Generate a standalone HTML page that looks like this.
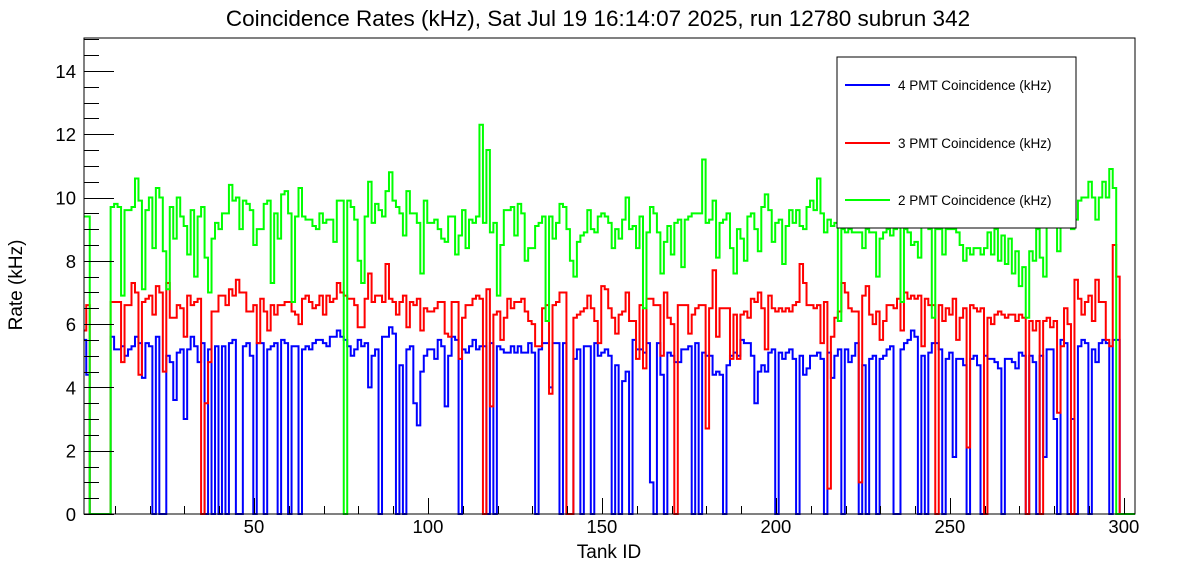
<!DOCTYPE html>
<html><head><meta charset="utf-8"><style>
body{margin:0;background:#fff;font-family:"Liberation Sans",sans-serif}
svg text{font-family:"Liberation Sans",sans-serif}
</style></head><body>
<svg id="chart" width="1196" height="572" viewBox="0 0 1196 572" xmlns="http://www.w3.org/2000/svg">
<defs><clipPath id="pc"><rect x="84" y="30" width="1051" height="486"/></clipPath></defs>
<rect width="1196" height="572" fill="#fff"/>
<text x="598" y="26" font-size="22.5" text-anchor="middle">Coincidence Rates (kHz), Sat Jul 19 16:14:07 2025, run 12780 subrun 342</text>
<text x="609" y="558" font-size="19" text-anchor="middle">Tank ID</text>
<text transform="translate(22,285) rotate(-90)" font-size="19" text-anchor="middle">Rate (kHz)</text>
<g id="series" clip-path="url(#pc)"></g>
<g id="axes"></g>
<rect x="84" y="38" width="1051" height="476" fill="none" stroke="#000" stroke-width="1"/>
<g>
<rect x="837" y="57" width="239" height="171" fill="#fff" stroke="#000" stroke-width="1"/>
<g><line x1="845" y1="85" x2="890" y2="85" stroke="#0000ff" stroke-width="2"/><text x="898" y="90" font-size="13.5">4 PMT Coincidence (kHz)</text></g>
<g><line x1="845" y1="143" x2="890" y2="143" stroke="#ff0000" stroke-width="2"/><text x="898" y="148" font-size="13.5">3 PMT Coincidence (kHz)</text></g>
<g><line x1="845" y1="200" x2="890" y2="200" stroke="#00ff00" stroke-width="2"/><text x="898" y="205" font-size="13.5">2 PMT Coincidence (kHz)</text></g>
</g>
</svg>
<script>
const green = [9.4,9.4,0,0,0,0,0,0,
9.7,9.8,9.7,6.9,9.6,9.6,9.7,10.6,9.9,7.1,9.6,10.0,
8.4,10.3,10.0,8.3,7.1,9.7,8.7,10.0,9.4,9.1,
8.2,9.6,7.5,9.4,9.7,8.1,7.0,8.7,9.2,9.0,
9.5,9.5,10.4,9.9,10.0,9.0,9.9,9.8,9.6,8.5,
9.0,9.0,9.8,9.9,7.3,9.5,8.7,10.1,10.2,9.5,
6.7,9.4,10.3,9.4,9.3,9.3,9.1,9.0,9.5,9.2,
9.3,9.3,8.6,9.9,9.9,0,9.9,9.7,9.3,8.0,
7.3,9.4,10.5,9.2,9.8,9.6,9.4,10.2,10.8,9.9,
9.7,9.5,8.8,10.2,9.5,9.5,9.2,7.6,9.9,9.2,
9.2,9.3,9.0,8.7,8.6,9.4,9.4,8.2,8.8,9.6,
8.4,9.3,9.2,9.4,12.3,9.2,11.5,8.9,9.2,6.9,
8.5,9.6,9.6,9.7,8.8,9.8,9.5,8.0,8.4,8.4,
9.1,9.2,9.4,6.1,9.4,8.7,9.2,9.8,9.7,9.0,
8.0,7.5,8.6,8.8,8.9,9.6,9.0,8.9,9.4,9.5,
9.4,9.2,8.4,9.0,8.7,9.3,10.0,9.0,9.1,8.4,
9.4,6.5,8.9,9.7,9.5,8.9,7.6,8.6,9.1,8.2,
9.2,9.3,7.8,9.3,9.4,9.5,9.5,9.5,11.2,9.2,
9.3,9.9,8.1,9.2,9.3,9.5,8.4,7.6,9.0,8.7,
8.0,9.4,9.5,9.0,8.3,9.7,10.1,9.6,8.6,9.2,
9.3,7.9,9.1,9.6,9.2,9.6,9.1,9.0,9.7,9.9,
9.6,10.6,9.5,8.9,9.3,9.1,9.2,6.1,9.0,8.9,
9.0,8.9,8.9,8.9,8.4,9.0,8.9,8.9,7.5,8.7,
8.9,9.0,8.8,9.0,9.3,6.7,9.0,8.9,8.5,8.6,
8.1,9.1,9.2,9.0,6.2,9.0,9.0,8.2,9.0,9.0,
9.0,8.9,8.5,8.0,8.4,8.2,8.4,8.4,8.2,8.4,
8.9,8.2,9.0,8.0,8.8,7.9,8.7,7.6,8.3,7.2,
7.8,6.2,8.3,8.0,9.0,8.1,7.5,9.4,9.5,9.1,
8.3,9.7,9.4,10.0,9.0,9.3,9.9,10.0,10.0,10.5,
10.0,9.3,10.0,10.5,10.0,10.9,10.3,0,0,0,
0,0,0];
const red = [5.8,6.6,0,0,0,0,0,0,
6.7,6.7,6.7,4.8,6.6,6.6,7.3,7.0,4.4,6.7,6.8,6.9,
6.3,7.2,7.0,4.5,7.3,6.2,6.2,6.6,6.5,5.6,
6.9,6.6,6.7,6.8,0,3.5,4.8,6.4,6.4,6.9,
6.9,6.6,7.1,6.9,7.4,7.0,7.0,6.4,6.4,6.6,
5.4,6.8,6.4,5.8,6.6,6.3,6.6,6.6,6.7,6.7,
6.4,6.3,6.0,6.8,6.9,6.7,6.5,6.6,6.9,6.3,
6.9,6.7,6.8,7.3,7.0,6.9,6.8,6.8,6.6,5.9,
5.9,6.8,7.6,6.7,6.9,6.9,6.7,7.9,6.8,6.7,
6.3,6.7,6.9,5.9,6.7,6.6,6.8,5.8,6.5,6.4,
6.4,6.5,6.7,6.7,5.7,5.6,6.7,6.7,4.9,6.2,
6.6,6.6,6.8,6.9,6.8,0,7.1,3.4,6.3,6.4,
5.5,6.2,6.8,6.5,6.7,6.7,6.8,6.4,6.1,6.0,
5.3,5.3,6.5,6.6,3.8,6.6,6.7,7.0,7.0,0,
0,6.2,6.3,6.4,6.5,6.9,6.5,6.1,5.4,7.2,
7.1,6.5,6.2,5.7,6.3,6.4,7.0,6.1,6.1,4.9,
6.6,4.6,6.8,6.8,6.6,6.6,5.0,7.0,6.2,6.0,
0,6.6,6.6,6.6,5.7,6.3,6.5,6.6,6.6,2.7,
6.5,7.7,5.6,6.5,6.5,6.5,4.9,6.3,4.9,6.3,
6.4,6.2,6.8,6.7,7.0,6.5,5.2,6.9,6.5,6.4,
6.5,6.4,6.5,6.4,6.6,6.7,7.9,7.3,6.6,6.6,
6.5,6.6,5.4,6.7,0.8,5.6,6.2,6.4,7.3,7.0,
6.5,6.4,6.4,1.0,6.9,7.2,6.3,6.0,6.4,5.5,
6.1,6.6,6.6,6.5,6.8,5.8,7.0,6.8,6.9,6.8,
6.9,5.3,6.8,6.6,6.6,0,6.6,6.1,6.5,6.3,
6.8,5.5,6.2,6.5,2.1,6.6,6.5,6.4,6.5,0,
6.2,6.0,6.3,6.4,6.3,6.2,6.3,6.3,6.1,6.3,
6.2,0,6.1,5.8,6.1,0,6.1,6.2,5.9,6.1,
3.2,5.3,6.5,6.0,0,7.4,6.8,6.3,6.7,6.9,
6.1,7.4,6.7,6.7,5.5,5.3,8.5,7.5,0,0,
0,0,0];
const blue = [5.5,4.4,0,0,0,0,0,0,
5.6,5.2,5.2,5.3,5.0,5.2,5.3,5.6,5.4,4.3,5.4,5.3,
0,5.6,0,0,5.0,4.8,3.6,5.1,5.2,3.0,
5.2,5.6,5.3,4.8,5.4,0,5.2,0,5.3,0,
5.3,0,5.4,5.5,0,0,5.3,5.4,5.0,0,
5.4,5.4,0,5.2,5.3,5.4,0,5.5,5.4,0,
5.3,5.3,0,5.2,5.3,5.2,5.4,5.5,5.5,5.4,
5.3,5.6,5.6,5.8,5.6,5.5,5.3,5.0,5.2,5.5,
5.3,5.4,4.0,5.0,5.2,0,5.6,5.6,5.9,5.7,
0,4.7,0,5.2,5.3,3.5,2.8,4.5,5.0,5.2,
5.2,4.9,5.5,5.3,3.4,5.0,5.6,5.5,0,5.2,
5.1,5.3,5.5,5.2,5.3,5.3,0,5.4,0,5.3,
5.2,5.1,5.1,5.3,5.1,5.3,5.1,5.1,5.4,5.1,
0,5.2,5.4,5.4,4.0,5.4,5.4,0,5.4,0,
0,4.9,5.2,0,5.3,5.3,0,5.4,5.0,5.1,
5.2,5.0,0,4.7,0,4.2,4.5,0,5.5,5.2,
5.2,5.1,5.4,1.0,0,5.4,4.4,0,5.1,5.0,
4.8,4.8,5.2,5.2,5.3,0,5.4,0,5.1,5.0,
5.0,4.4,4.5,4.4,0,4.7,5.0,5.1,5.0,5.5,
5.4,5.4,5.0,3.5,4.5,4.7,4.5,5.1,5.2,0,
5.1,4.9,5.1,5.2,4.9,0,5.0,4.4,4.6,5.0,
5.0,5.1,4.9,0,5.1,4.3,5.0,5.2,0,5.2,
4.8,5.0,5.4,0,4.7,0,4.9,5.0,0,4.9,
5.0,5.2,5.3,0,0,5.2,5.4,5.5,5.8,5.6,
0,5.0,0,5.1,5.4,5.4,5.2,0,4.9,5.1,
1.8,4.9,4.9,4.7,0,4.9,5.0,4.7,0,5.0,
4.9,4.9,4.8,4.6,0,4.9,4.9,4.8,4.6,5.1,
5.0,0,5.0,4.8,0,5.0,1.8,5.2,5.2,3.0,
0,5.5,5.4,0,3.0,0,5.3,5.5,5.4,0,
5.2,4.8,5.4,5.5,5.4,0,5.5,5.5,0,0,
0,0,0];
const xTicks = [50,100,150,200,250,300];
const yTicks = [0,2,4,6,8,10,12,14];

const NS = 'http://www.w3.org/2000/svg';
const X0 = 84, X1 = 1135, Y0 = 514, Y1 = 38;
const XMIN = 1.15, XMAX = 303.2, YMIN = 0, YMAX = 15.04;
function xs(v){return X0 + (v - XMIN) / (XMAX - XMIN) * (X1 - X0);}
function ys(v){return Y0 - (v - YMIN) / (YMAX - YMIN) * (Y0 - Y1);}

function drawSeries(arr, color, name){
  let d = '';
  for (let i = 0; i < arr.length; i++) {
    const t = i + 1;
    const xa = xs(t - 0.2), xb = xs(t + 0.8), y = ys(arr[i]);
    d += (i === 0 ? 'M' : 'L') + xa.toFixed(2) + ',' + y.toFixed(2) + 'L' + xb.toFixed(2) + ',' + y.toFixed(2);
  }
  const p = document.createElementNS(NS, 'path');
  p.setAttribute('d', d);
  p.setAttribute('fill', 'none');
  p.setAttribute('stroke', color);
  p.setAttribute('stroke-width', '2');
  
  
  document.getElementById('series').appendChild(p);
}
drawSeries(blue, '#0000ff', 'series-4pmt');
drawSeries(red, '#ff0000', 'series-3pmt');
drawSeries(green, '#00ff00', 'series-2pmt');

const ax = document.getElementById('axes');
function line(x1,y1,x2,y2){
  const l = document.createElementNS(NS,'line');
  l.setAttribute('x1',x1);l.setAttribute('y1',y1);l.setAttribute('x2',x2);l.setAttribute('y2',y2);
  l.setAttribute('stroke','#000');l.setAttribute('stroke-width','1');
  
  
  ax.appendChild(l);
}
function label(x,y,txt,anchor,name){
  const t = document.createElementNS(NS,'text');
  t.setAttribute('x',x);t.setAttribute('y',y);t.setAttribute('font-size','18.5');
  t.setAttribute('text-anchor',anchor);t.textContent = txt;
  
  
  ax.appendChild(t);
}
for (let v = 0; v <= 15; v += 0.5) {
  const y = Math.round(ys(v)) + 0.5;
  const major = Math.abs(v % 2) < 1e-9;
  line(X0, y, X0 + (major ? 30 : 15), y);
}
yTicks.forEach(v => label(X0 - 8, ys(v) + 7, String(v), 'end', 'y-tick-label'));
for (let v = 10; v <= 300; v += 10) {
  const x = Math.round(xs(v)) + 0.5;
  const major = v % 50 === 0;
  line(x, Y0, x, Y0 - (major ? 16 : 8));
}
xTicks.forEach(v => label(xs(v), 533, String(v), 'middle', 'x-tick-label'));
</script>
</body></html>
